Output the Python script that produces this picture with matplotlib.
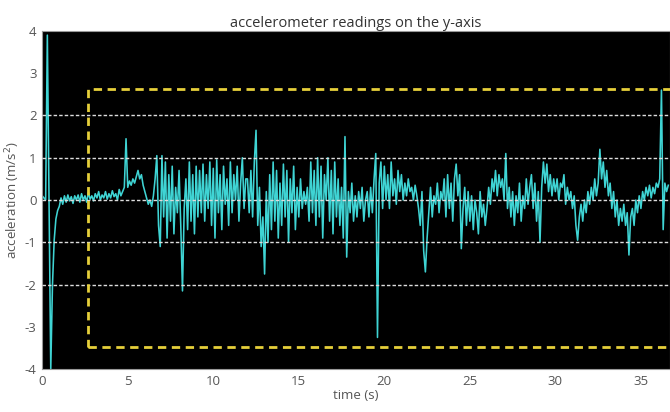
import numpy as np
import matplotlib
matplotlib.use("Agg")
import matplotlib.pyplot as plt
from matplotlib.patches import Rectangle

plt.rcParams['font.family'] = ['Open Sans', 'DejaVu Sans']
plt.rcParams['axes.unicode_minus'] = False

# sample spacing of the readings (s)
dt = 0.1

# acceleration readings, one row per second
accel = [
    0.1, 0.05, 0.0, 3.9, 0.0, -4.0, -2.0, -0.95, -0.45, -0.25,
    -0.15, 0.05, -0.1, 0.1, -0.05, 0.12, -0.02, 0.08, -0.08, 0.1,
    0.0, 0.12, -0.05, 0.15, 0.0, 0.1, -0.05, 0.18, 0.02, 0.1,
    -0.02, 0.15, 0.05, 0.2, 0.0, 0.12, 0.05, 0.2, 0.02, 0.15,
    0.05, 0.22, 0.08, 0.15, 0.0, 0.25, 0.1, 0.2, 0.3, 1.45,
    0.3, 0.45, 0.35, 0.5, 0.4, 0.55, 0.7, 0.5, 0.6, 0.35,
    0.2, 0.05, -0.1, 0.0, -0.15, 0.1, 0.5, 1.05, -0.6, -1.1,
    1.05, -0.4, 0.9, -0.9, 0.6, -0.5, 0.8, -0.8, 0.3, -0.3,
    0.7, -0.6, -2.15, -0.2, 0.5, -0.7, 0.9, -0.5, 0.6, -0.8,
    0.8, -0.4, 0.7, -0.3, 0.85, -0.5, 0.6, -0.2, 0.9, -0.6,
    0.75, -0.9, 0.95, -0.3, 0.6, -0.7, 0.8, -0.1, 0.5, -0.6,
    0.9, -0.3, 0.6, 0.0, 0.8, -0.5, 0.4, 1.0, -0.2, 0.5,
    0.5, -0.3, 0.7, -0.4, 0.9, 1.65, -0.6, 0.3, -1.1, -0.4,
    -1.75, 0.2, -1.0, 0.6, -0.7, 0.9, -0.5, 0.7, -0.9, 0.4,
    -0.6, 0.85, -0.4, 0.7, -1.0, 0.5, -0.3, 0.8, -0.7, 0.3,
    -0.4, 0.5, -0.2, 0.2, -0.1, 0.3, -0.5, 0.9, -0.3, 0.7,
    -0.6, 1.0, -0.4, 0.8, -0.9, 0.6, 0.0, 1.0, -0.5, 0.7,
    -0.8, 0.9, -0.4, 0.5, -0.6, 0.3, -0.9, 1.5, -1.35, 0.2,
    -0.3, 0.4, -0.5, 0.1, -0.4, 0.2, -0.2, 0.3, -0.5, 0.0,
    0.2, -0.4, 0.3, -0.3, 0.5, 1.1, -3.25, 0.4, 0.9, -0.2,
    0.8, 0.0, 0.6, -0.2, 0.9, 0.1, 0.5, -0.1, 0.7, 0.2,
    0.6, 0.0, 0.4, 0.1, 0.5, 0.2, 0.3, 0.0, 0.35, 0.1,
    -0.2, -0.6, 0.2, -1.2, -1.7, -0.9, -0.3, 0.3, -0.4, 0.1,
    -0.1, 0.4, -0.3, 0.2, 0.0, 0.5, -0.4, 0.6, -0.2, 0.4,
    -0.5, 0.5, 0.85, 0.1, 0.6, -1.15, -0.2, 0.3, -0.6, 0.2,
    -0.5, 0.1, -0.7, 0.0, -0.3, -0.8, 0.2, -0.4, -0.1, -0.6,
    -0.2, 0.3, -0.1, 0.5, 0.2, 0.7, 0.1, 0.6, 0.3, 0.5,
    0.0, 1.1, -0.2, 0.3, -0.4, 0.2, -0.6, 0.1, -0.3, 0.4,
    -0.5, 0.1, -0.2, 0.5, -0.1, 0.3, 0.6, -0.2, 0.4, -0.5,
    0.2, -1.0, 0.3, 0.9, 0.4, 0.85, 0.2, 0.6, 0.1, 0.5,
    0.2, 0.5, 0.0, 0.4, 0.3, 0.6, -0.1, 0.3, 0.0, 0.2,
    -0.2, 0.1, -0.6, -0.95, -0.4, -0.1, -0.5, 0.0, -0.3, 0.2,
    -0.1, 0.3, 0.0, 0.5, 0.1, 0.4, 1.2, 0.5, 0.9, 0.3,
    0.7, 0.1, 0.4, -0.2, 0.2, -0.4, 0.0, -0.6, -0.2, -0.5,
    -0.1, -0.6, -0.3, -1.3, -0.4, -0.2, -0.6, 0.0, -0.3, 0.1,
    -0.2, 0.2, 0.0, 0.3, 0.1, 0.35, 0.05, 0.3, 0.15, 0.4,
    0.3, 0.5, 2.6, -0.7, 0.4, 0.2, 0.35,
]
time = np.arange(len(accel)) * dt

grid_levels = [-2, -1, 0, 1, 2]
# region of interest box: start time, bottom, top
box_start = 2.7
box_low = -3.47
box_high = 2.63

fig = plt.figure(figsize=(6.7, 4.12), dpi=100)
ax = fig.add_axes([0.063, 0.104, 0.937, 0.821])
ax.set_facecolor('black')

ax.plot(time, accel, color='#3fd4d4', linewidth=1.15, zorder=2)

for lvl in grid_levels:
    ax.axhline(lvl, color='#dddddd', linestyle=(0, (2.5, 1.5)), linewidth=1.0, zorder=3)

ax.add_patch(Rectangle((box_start, box_low), 60, box_high - box_low, fill=False,
                       edgecolor='#e6cf3a', linestyle=(0, (3, 2)), linewidth=2.0, zorder=4))

ax.set_xlim(0, 36.7)
ax.set_ylim(-4, 4)
ax.set_xticks([0, 5, 10, 15, 20, 25, 30, 35])
ax.set_yticks([-4, -3, -2, -1, 0, 1, 2, 3, 4])
ax.tick_params(length=0, labelsize=9.5, colors='#555555', pad=4)
for s in ax.spines.values():
    s.set_color('#999999')
    s.set_linewidth(0.8)

ax.set_title('accelerometer readings on the y-axis', fontsize=10.5, color='#333333', pad=3)
ax.set_xlabel('time (s)', fontsize=9.5, color='#555555', labelpad=1)
ax.set_ylabel('acceleration (m/s$^2$)', fontsize=9.5, color='#555555', labelpad=2)

fig.savefig('out.png', dpi=100, facecolor='white')
